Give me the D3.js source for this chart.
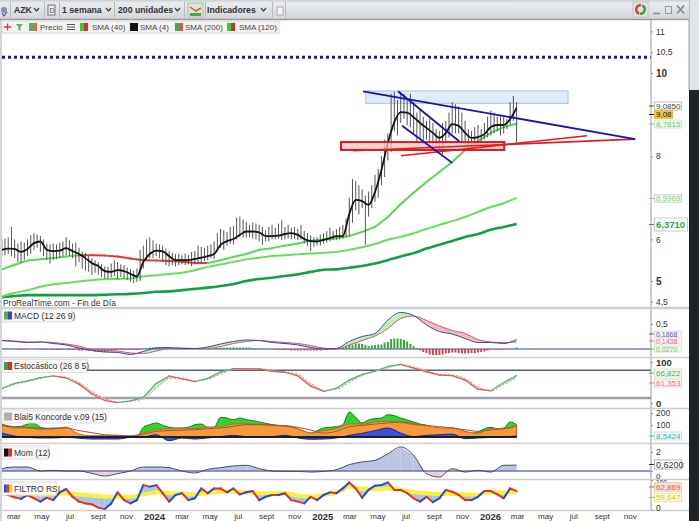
<!DOCTYPE html>
<html>
<head>
<meta charset="utf-8">
<title>AZK</title>
<script src="https://cdn.jsdelivr.net/npm/d3@7/dist/d3.min.js"></script>
<style>
  html, body { margin: 0; padding: 0; background: #fff; overflow: hidden; }
  svg { display: block; font-family: "Liberation Sans", Arial, sans-serif; }
</style>
</head>
<body>
<div id="chart"></div>
<script>
// x axis tick dates and their labels
const monthTicks = ["2023-03-01","2023-05-01","2023-07-01","2023-09-01","2023-11-01","2024-01-01","2024-03-01","2024-05-01","2024-07-01","2024-09-01","2024-11-01","2025-01-01","2025-03-01","2025-05-01","2025-07-01","2025-09-01","2025-11-01","2026-01-01","2026-03-01","2026-05-01","2026-07-01","2026-09-01","2026-11-01"];
const monthLabels = ["mar","may","jul","sept","nov","2024","mar","may","jul","sept","nov","2025","mar","may","jul","sept","nov","2026","mar","may","jul","sept","nov"];

// price panel, weekly bars
const barHigh = [6.00,6.02,6.05,6.30,6.00,5.90,5.95,5.92,6.00,6.10,6.15,6.12,6.08,6.00,5.90,5.88,5.90,5.88,5.92,5.95,
  6.05,5.98,5.90,5.92,5.80,5.70,5.68,5.60,5.55,5.50,5.45,5.40,5.35,5.35,5.42,5.50,5.45,5.40,5.38,5.32,
  5.28,5.25,5.30,5.75,5.85,6.00,6.05,5.98,5.90,5.88,5.85,5.78,5.72,5.68,5.65,5.65,5.62,5.66,5.62,5.70,
  5.72,5.85,5.82,5.80,5.85,5.88,5.95,6.15,6.25,6.22,6.18,6.30,6.32,6.52,6.55,6.48,6.42,6.35,6.40,6.38,
  6.35,6.30,6.22,6.30,6.35,6.28,6.38,6.47,6.30,6.35,6.28,6.30,6.25,6.35,6.20,6.15,6.10,6.05,6.05,6.12,
  6.15,6.20,6.28,6.20,6.25,6.30,6.35,6.50,7.00,7.45,7.40,7.30,7.20,7.05,7.15,7.30,7.55,7.70,8.00,8.40,
  8.55,9.50,9.55,9.35,9.55,9.50,9.40,9.50,9.30,9.05,9.15,8.95,8.85,8.90,8.80,8.65,8.60,8.80,8.85,9.05,
  9.30,9.25,9.20,9.05,8.85,8.65,8.60,8.70,8.75,8.65,8.80,8.95,9.10,9.05,8.95,9.00,8.95,8.90,9.30,9.45,9.30];
const barLow = [5.60,5.62,5.65,5.60,5.55,5.45,5.43,5.50,5.60,5.65,5.75,5.80,5.70,5.60,5.50,5.42,5.50,5.52,5.55,5.60,
  5.62,5.60,5.55,5.35,5.45,5.30,5.25,5.22,5.15,5.20,5.15,5.10,5.05,5.05,5.08,5.12,5.05,5.10,5.05,5.02,
  4.98,4.95,4.98,5.00,5.30,5.50,5.55,5.55,5.60,5.55,5.45,5.38,5.35,5.38,5.35,5.38,5.40,5.38,5.40,5.35,
  5.40,5.45,5.42,5.48,5.50,5.55,5.52,5.72,5.80,5.75,5.85,5.90,5.88,6.00,6.05,6.05,6.05,6.05,6.02,6.00,
  5.95,5.87,5.95,5.95,6.00,6.00,6.02,5.98,6.00,6.02,6.00,6.02,5.98,6.00,5.90,5.85,5.72,5.82,5.85,5.85,
  5.90,5.92,5.95,5.98,5.98,6.00,6.02,6.05,6.10,6.40,6.70,6.60,6.75,5.87,6.55,6.75,6.90,7.00,7.30,7.50,
  7.90,8.10,8.60,8.50,8.80,8.90,8.75,8.70,8.55,8.35,8.40,8.30,8.40,8.35,8.25,8.15,8.10,8.05,8.30,8.45,
  8.55,8.55,8.55,8.35,8.30,8.25,8.20,8.25,8.25,8.30,8.40,8.45,8.50,8.55,8.60,8.50,8.55,8.65,8.75,8.85,8.32];

// moving averages (sma4 every 2 weeks, the slow ones every 4 weeks)
const sma4 = [5.75,5.78,5.77,5.70,5.77,5.91,5.95,5.75,5.72,5.73,5.79,5.72,5.65,5.55,5.43,5.36,5.24,5.22,5.26,5.24,5.17,5.11,5.46,5.65,5.73,5.71,5.60,5.50,5.50,5.50,5.53,5.56,5.60,5.65,5.87,5.96,6.01,6.11,6.19,6.19,6.17,6.08,6.08,6.09,6.13,6.15,6.11,6.01,5.96,5.95,5.99,6.03,6.08,6.08,6.61,6.95,6.92,6.83,7.14,7.67,8.32,8.82,9.06,9.05,8.94,8.80,8.68,8.56,8.44,8.56,8.77,8.73,8.56,8.44,8.46,8.53,8.70,8.75,8.75,8.89,9.16];
const sma40 = [5.28,5.39,5.49,5.52,5.55,5.59,5.62,5.62,5.61,5.59,5.54,5.50,5.49,5.48,5.46,5.43,5.43,5.50,5.58,5.65,5.75,5.79,5.85,5.90,5.97,6.00,6.03,6.08,6.18,6.30,6.54,6.85,7.12,7.38,7.62,7.86,8.15,8.36,8.56,8.70,8.78];
const sma120 = [4.63,4.71,4.78,4.86,4.92,4.95,4.99,5.02,5.04,5.05,5.06,5.11,5.14,5.17,5.20,5.26,5.34,5.40,5.46,5.52,5.56,5.60,5.62,5.64,5.66,5.68,5.70,5.75,5.81,5.89,5.99,6.06,6.15,6.25,6.35,6.44,6.54,6.66,6.78,6.87,7.00];
const sma200 = [4.61,4.64,4.66,4.66,4.66,4.66,4.66,4.66,4.67,4.68,4.69,4.71,4.74,4.75,4.78,4.81,4.84,4.88,4.93,5.00,5.05,5.08,5.12,5.16,5.22,5.27,5.28,5.32,5.36,5.42,5.50,5.59,5.67,5.78,5.87,5.96,6.06,6.13,6.23,6.30,6.37];

// drawn objects on the price panel: [start date, start price, end date, end price]
const dottedLevel = 10.38;
const blueLines = [["2025-04-02",9.56,"2026-11-15",8.41],["2025-06-17",9.56,"2025-10-28",8.36],["2025-06-26",8.73,"2025-10-13",7.84]];
const redLines = [["2025-03-11",8.13,"2026-11-15",8.41],["2025-06-24",8.01,"2026-08-02",8.49]];
const blueBox = ["2025-04-08",9.57,"2026-06-22",9.27];
const redBox = ["2025-02-13",8.34,"2026-02-03",8.15];
const priceTicks = [11,10.5,10,8,6,5,4.5];

// MACD: lines every 4 weeks, histogram weekly
const macdLine = [.17,.15,.13,.14,.11,.08,.02,-.03,-.06,-.07,-.11,-.05,.02,.03,.01,.01,.04,.10,.15,.18,.17,.13,.11,.08,.03,0,.01,.15,.25,.31,.58,.73,.67,.48,.35,.30,.21,.13,.13,.11,.19];
const macdSignal = [.17,.16,.14,.14,.13,.10,.06,-.01,-.03,-.04,-.08,-.09,-.04,.01,.02,.01,.01,.05,.11,.15,.17,.15,.13,.11,.07,.02,0,.08,.17,.26,.41,.61,.66,.57,.46,.37,.31,.19,.14,.13,.14];
const macdHist = [.01,.01,.01,0,-.01,-.01,-.02,-.01,-.01,0,0,-.01,-.01,-.02,-.01,-.01,-.02,-.02,-.02,-.01,
  -.01,-.02,-.02,-.02,-.03,-.03,-.03,-.04,-.04,-.05,-.05,-.06,-.06,-.05,-.04,-.03,-.02,-.02,-.02,-.02,
  -.02,-.02,-.02,-.01,.01,.02,.03,.03,.04,.04,.04,.03,.02,.02,.01,.01,0,0,0,0,
  0,0,.01,.01,.01,.01,.02,.02,.03,.03,.03,.03,.03,.03,.03,.03,.03,.03,.02,.02,
  .01,.01,0,0,-.01,-.01,-.02,-.02,-.02,-.02,-.03,-.03,-.03,-.03,-.03,-.03,-.03,-.03,-.03,-.03,
  -.02,-.02,-.01,-.01,0,.01,.03,.06,.08,.09,.11,.11,.10,.08,.06,.07,.08,.09,.09,.13,
  .14,.20,.21,.21,.20,.18,.15,.10,.06,.02,-.03,-.06,-.08,-.11,-.12,-.12,-.12,-.11,-.09,-.08,
  -.07,-.07,-.08,-.09,-.09,-.09,-.08,-.08,-.07,-.06,-.05,-.03,-.01,-.01,-.01,-.01,-.01,0,0,.01,.03];

// Estocastico, every 4 weeks
const stochK = [36,48,54,62,66,61,46,22,6,1,5,14,48,66,59,52,60,76,84,83,83,77,75,66,41,28,36,56,70,78,89,94,85,76,68,67,56,33,30,50,67];
const stochD = [34,45,52,60,65,63,50,28,11,2,4,10,36,60,61,54,57,71,82,84,84,79,76,70,48,31,33,50,67,76,86,93,88,79,70,68,60,39,29,45,61];
const stochLevels = [80,12];

// Koncorde: green every 2 weeks, the others every 4 weeks
const koncGreen = [108,92,86,89,108,114,81,72,75,75,81,33,14,6,6,6,6,8,11,8,6,3,81,103,117,97,81,75,75,81,103,108,81,81,164,158,144,158,144,136,125,114,103,97,94,89,69,47,33,53,75,81,86,103,208,164,117,142,153,158,186,178,158,142,125,108,97,75,75,64,75,61,47,31,42,69,81,69,75,125,103];
const koncOrange = [103,75,75,64,67,81,25,11,11,14,8,33,61,69,69,69,81,86,108,111,103,97,89,69,33,53,69,108,108,125,131,122,103,94,75,75,47,31,69,69,97];
const koncBlue = [33,8,-3,-8,-8,-3,-10,-17,-17,-17,-3,0,19,-31,-8,-17,-8,3,14,3,3,3,14,-8,-19,-17,-8,14,31,53,75,33,3,14,19,25,-14,-8,-3,0,8.5];
const koncMa = [95,85,80,72,70,75,53,36,19,14,8,22,47,53,56,61,69,75,89,103,103,100,92,81,58,33,47,86,97,108,117,125,111,97,86,75,61,47,58,69,89];

// Mom, every 4 weeks
const momValues = [.25,.42,.42,0,.07,0,0,-.25,-.53,-.28,0,.42,.42,.35,0,-.21,.18,.35,.53,.6,.25,0,-.04,-.04,-.11,-.04,.14,.67,.95,1.12,1.82,2.53,1.65,-.28,-.63,.25,-.11,.07,-.11,.6,.62];

// FILTRO RSI: fast line every 2 weeks, yellow every 4 weeks
const rsiFast = [56,50,42,37,50,39,28,41,33,59,70,44,28,22,19,8,3,22,59,33,22,33,83,78,83,56,28,50,56,33,39,72,56,72,72,59,72,52,59,63,33,44,50,50,56,33,28,22,44,33,50,59,56,72,92,72,41,67,81,83,92,67,67,56,39,28,44,26,39,67,61,50,33,33,44,63,63,52,39,72,63];
const rsiSlow = [56,56,52,52,52,56,52,48,44,44,44,52,59,56,56,52,56,61,61,59,56,56,56,48,44,50,59,78,70,70,72,67,59,56,53,53,52,52,59,58,60];

const WIDTH = 699;
const HEIGHT = 521;
const AXIS_X = 651;
const FRAME_X = 689;

const svg = d3.select("#chart").append("svg")
    .attr("width", WIDTH)
    .attr("height", HEIGHT);

const parseDay = d3.timeParse("%Y-%m-%d");

const weeks = d3.timeMonday.range(new Date(2023, 1, 6), new Date(2026, 2, 3));
const weeks2 = weeks.filter((d, i) => i % 2 === 0);
const weeks4 = weeks.filter((d, i) => i % 4 === 0);

const xScale = d3.scaleTime()
    .domain([new Date(2024, 0, 1), new Date(2026, 0, 1)])
    .range([153, 489]);

// One y scale per panel
const priceY = d3.scaleLinear().domain([4.5, 11]).range([301.8, 31.4]);
const macdY = d3.scaleLinear().domain([0, 0.5]).range([349, 324]);
const stochY = d3.scaleLinear().domain([0, 100]).range([403, 362]);
const koncY = d3.scaleLinear().domain([0, 200]).range([437, 413]);
const momY = d3.scaleLinear().domain([0, 2]).range([471, 452]);
const rsiY = d3.scaleLinear().domain([0, 100]).range([510, 480]);

const commaFormat = d => String(d).replace(".", ",");

function smoothLine(dates, y) {
    return d3.line()
        .x((d, i) => xScale(dates[i]))
        .y(d => y(d))
        .curve(d3.curveMonotoneX);
}

function drawLine(values, dates, y, color, width, dash) {
    svg.append("path")
        .attr("d", smoothLine(dates, y)(values))
        .attr("fill", "none")
        .attr("stroke", color)
        .attr("stroke-width", width)
        .attr("stroke-dasharray", dash || null)
        .attr("stroke-linejoin", "round");
}

// Segments coloured by direction of the series
function drawDirectional(values, dates, y, upColor, downColor, width) {
    svg.append("g").selectAll("line")
        .data(values.slice(1))
        .enter()
        .append("line")
        .attr("x1", (d, i) => xScale(dates[i]))
        .attr("x2", (d, i) => xScale(dates[i + 1]))
        .attr("y1", (d, i) => y(values[i]))
        .attr("y2", d => y(d))
        .attr("stroke", (d, i) => d > values[i] ? upColor : downColor)
        .attr("stroke-width", width)
        .attr("stroke-linecap", "round");
}

// Area between two series, colour changes with which one is on top
function fillBetween(a, b, dates, y, upColor, downColor) {
    const area = d3.area()
        .x(d => xScale(d.date))
        .y0(d => y(d.b))
        .y1(d => y(d.a));
    svg.append("g").selectAll("path")
        .data(a.slice(1))
        .enter()
        .append("path")
        .attr("d", (d, i) => area([
            { date: dates[i], a: a[i], b: b[i] },
            { date: dates[i + 1], a: a[i + 1], b: b[i + 1] }
        ]))
        .attr("fill", (d, i) => a[i] + a[i + 1] >= b[i] + b[i + 1] ? upColor : downColor);
}

function fillToZero(values, dates, y, color, outline) {
    const area = d3.area()
        .x((d, i) => xScale(dates[i]))
        .y0(y(0))
        .y1(d => y(d))
        .curve(d3.curveMonotoneX);
    svg.append("path")
        .attr("d", area(values))
        .attr("fill", color)
        .attr("stroke", outline || "none")
        .attr("stroke-width", 1);
}

function hLine(value, y, color, width, x2) {
    svg.append("line")
        .attr("x1", 2)
        .attr("x2", x2 || AXIS_X)
        .attr("y1", y(value))
        .attr("y2", y(value))
        .attr("stroke", color)
        .attr("stroke-width", width);
}

// ---- price panel ----
drawLine(sma200, weeks4, priceY, "#12a045", 2.6);
drawLine(sma120, weeks4, priceY, "#62e05a", 2);
drawDirectional(sma40, weeks4, priceY, "#52dc4e", "#dd3a3a", 2);

svg.append("rect")
    .attr("x", xScale(parseDay(blueBox[0])))
    .attr("y", priceY(blueBox[1]))
    .attr("width", xScale(parseDay(blueBox[2])) - xScale(parseDay(blueBox[0])))
    .attr("height", priceY(blueBox[3]) - priceY(blueBox[1]))
    .attr("fill", "#e0ebf8")
    .attr("stroke", "#a9c4e6")
    .attr("stroke-width", 1);

svg.append("g").selectAll("line")
    .data(barHigh)
    .enter()
    .append("line")
    .attr("x1", (d, i) => xScale(weeks[i]))
    .attr("x2", (d, i) => xScale(weeks[i]))
    .attr("y1", d => priceY(d))
    .attr("y2", (d, i) => priceY(barLow[i]))
    .attr("stroke", "#555")
    .attr("stroke-width", 1);

drawLine(sma4, weeks2, priceY, "#141414", 1.8);

svg.append("rect")
    .attr("x", xScale(parseDay(redBox[0])))
    .attr("y", priceY(redBox[1]))
    .attr("width", xScale(parseDay(redBox[2])) - xScale(parseDay(redBox[0])))
    .attr("height", priceY(redBox[3]) - priceY(redBox[1]))
    .attr("fill", "#f8c4c4")
    .attr("fill-opacity", 0.75)
    .attr("stroke", "#e0181c")
    .attr("stroke-width", 2);

function drawTrendLines(lines, color, width) {
    svg.append("g").selectAll("line")
        .data(lines)
        .enter()
        .append("line")
        .attr("x1", d => xScale(parseDay(d[0])))
        .attr("y1", d => priceY(d[1]))
        .attr("x2", d => xScale(parseDay(d[2])))
        .attr("y2", d => priceY(d[3]))
        .attr("stroke", color)
        .attr("stroke-width", width);
}
drawTrendLines(redLines, "#e01c20", 1.6);
drawTrendLines(blueLines, "#1414b4", 1.8);

svg.append("line")
    .attr("x1", 2)
    .attr("x2", AXIS_X)
    .attr("y1", priceY(dottedLevel))
    .attr("y2", priceY(dottedLevel))
    .attr("stroke", "#1a1aa8")
    .attr("stroke-width", 3)
    .attr("stroke-dasharray", "3 3");

// ---- MACD ----
fillBetween(macdLine, macdSignal, weeks4, macdY, "#bdf0bd", "#f8b8bc");
hLine(0, macdY, "#9aa0cc", 2);
svg.append("g").selectAll("rect")
    .data(macdHist)
    .enter()
    .append("rect")
    .attr("x", (d, i) => xScale(weeks[i]) - 1)
    .attr("y", d => macdY(Math.max(d, 0)))
    .attr("width", 2)
    .attr("height", d => Math.abs(macdY(d) - macdY(0)))
    .attr("fill", d => d >= 0 ? "#3aa83a" : "#d2474d");
drawLine(macdSignal, weeks4, macdY, "#c7626a", 1);
drawLine(macdLine, weeks4, macdY, "#3b48a8", 1);

// ---- Estocastico ----
hLine(stochLevels[0], stochY, "#5c6274", 1.5);
hLine(stochLevels[1], stochY, "#a0a0a6", 2.5);
fillBetween(stochK, stochD, weeks4, stochY, "#c6ecc6", "#f7c4c6");
drawLine(stochD, weeks4, stochY, "#d68a8a", 1, "2 2");
drawDirectional(stochK, weeks4, stochY, "#5fae7a", "#dc5c5c", 1.3);

// ---- Koncorde ----
fillToZero(koncGreen, weeks2, koncY, "#2dd62d", "#1c7a1c");
fillToZero(koncOrange, weeks4, koncY, "#f49a3c", "#c46a16");
drawLine(koncMa, weeks4, koncY, "#a8504a", 1);
fillToZero(koncBlue, weeks4, koncY, "#3a52d8", "#1a2a88");
svg.append("line")
    .attr("x1", 2)
    .attr("x2", xScale(weeks[weeks.length - 1]))
    .attr("y1", koncY(0))
    .attr("y2", koncY(0))
    .attr("stroke", "#111")
    .attr("stroke-width", 1.5);

// ---- Mom ----
fillBetween(momValues, momValues.map(() => 0), weeks4, momY, "#bcc5df", "#ecd0d4");
hLine(0, momY, "#6d76a8", 1.5);
drawLine(momValues, weeks4, momY, "#4a4a5a", 1);

// ---- FILTRO RSI ----
const rsiSlowOnFast = rsiFast.map((d, i) => rsiSlow[Math.floor(i / 2)]);
fillBetween(rsiFast, rsiSlowOnFast, weeks2, rsiY, "#a5c4ec", "#a5c4ec");
drawLine(rsiSlow, weeks4, rsiY, "#f9f13a", 4);
drawDirectional(rsiFast, weeks2, rsiY, "#2a44d8", "#e2331f", 2);

// ---- frame, panel separators ----
[308, 357.5, 408.5, 443.5, 479.5, 510.5].forEach(sep => {
    svg.append("line")
        .attr("x1", 0).attr("x2", FRAME_X)
        .attr("y1", sep).attr("y2", sep)
        .attr("stroke", "#cdcdd0")
        .attr("stroke-width", sep === 308 ? 2.5 : 1.5);
});

svg.append("rect").attr("x", 0).attr("y", 19).attr("width", 2).attr("height", HEIGHT - 19).attr("fill", "#d4d4d6");
svg.append("rect").attr("x", FRAME_X).attr("y", 0).attr("width", WIDTH - FRAME_X).attr("height", 90).attr("fill", "#dfe4ea");
svg.append("rect").attr("x", FRAME_X).attr("y", 90).attr("width", WIDTH - FRAME_X).attr("height", HEIGHT - 90).attr("fill", "#1f2326");
svg.append("line").attr("x1", FRAME_X).attr("x2", FRAME_X).attr("y1", 0).attr("y2", 90).attr("stroke", "#9a9ea4");

// ---- axes ----
function styleAxis(g) {
    g.select(".domain").attr("stroke", "#9a9a9a");
    g.selectAll(".tick line").attr("stroke", "#9a9a9a");
    g.selectAll("text")
        .attr("font-size", 8.5)
        .attr("font-family", "Liberation Sans")
        .attr("fill", "#333");
}

const xAxis = svg.append("g")
    .attr("transform", "translate(0,510)")
    .call(d3.axisBottom(xScale)
        .tickValues(monthTicks.map(parseDay))
        .tickSize(0)
        .tickPadding(3)
        .tickFormat((d, i) => monthLabels[i]));
xAxis.select(".domain").remove();
xAxis.selectAll("text")
    .attr("font-size", d => d.getMonth() === 0 ? 9.5 : 8)
    .attr("font-weight", d => d.getMonth() === 0 ? "bold" : "normal")
    .attr("font-family", "Liberation Sans")
    .attr("dx", 1)
    .attr("fill", "#333");

function priceAxis(y, ticks, y0, y1) {
    const g = svg.append("g")
        .attr("transform", `translate(${AXIS_X},0)`)
        .call(d3.axisRight(y).tickValues(ticks).tickSize(2).tickPadding(3).tickFormat(commaFormat));
    styleAxis(g);
    g.select(".domain").attr("d", `M0,${y0}V${y1}`);
    return g;
}

const mainAxis = priceAxis(priceY, priceTicks, 19, 307);
mainAxis.selectAll("text")
    .attr("font-weight", d => d === 10 || d === 5 ? "bold" : "normal")
    .attr("font-size", d => d === 10 || d === 5 ? 10 : 8.5);
priceAxis(macdY, [0.5], 309, 357);
priceAxis(stochY, [100, 0], 358, 408).selectAll("text").attr("font-size", 9.5).attr("font-weight", "bold");
priceAxis(koncY, [200, 100], 409, 443);
// the zero and hundred labels sit just clear of the value tags, as in the source
priceAxis(momY, [2, 0], 444, 479).selectAll("text")
    .attr("dy", d => d === 0 ? "7px" : "0.32em")
    .attr("font-size", d => d === 0 ? 8 : 8.5);
priceAxis(rsiY, [100, 0], 480, 510).selectAll("text")
    .attr("dy", d => d === 0 ? "0px" : "4px")
    .attr("font-size", d => d === 0 ? 8.5 : 6.5);

// ---- value tags on the right axis ----
function valueTag(label, cy, h, textColor, border, bg, bold, size, w) {
    const fontSize = size || 8;
    svg.append("rect")
        .attr("x", 654.5).attr("y", cy - h / 2)
        .attr("width", w || Math.max(label.length * 4.5, 17)).attr("height", h)
        .attr("fill", bg)
        .attr("stroke", border);
    svg.append("text")
        .attr("x", 656).attr("y", cy + fontSize * 0.36)
        .attr("font-size", fontSize)
        .attr("font-weight", bold ? "bold" : "normal")
        .attr("fill", textColor)
        .text(label);
    svg.append("line")
        .attr("x1", AXIS_X - 2).attr("x2", 654)
        .attr("y1", cy).attr("y2", cy)
        .attr("stroke", textColor);
}
valueTag("9,0850", 106, 8, "#444", "#bbb", "#fff");
valueTag("9,08", 114.5, 7.5, "#222", "#e8b832", "#f3c640");
valueTag("8,7815", 124, 8, "#72c272", "#cfe8cf", "#eef9ee");
valueTag("6,9969", 198.5, 7.5, "#86cf80", "#cfcfcf", "#f2faf0");
valueTag("6,3710", 224.5, 13, "#22a84c", "#c8c8c8", "#fff", true, 9.5, 33);
valueTag("0,1868", 334, 6, "#5860b8", "#dcdcec", "#f4f4fb", false, 7);
valueTag("0,1438", 341, 6, "#d87878", "#f0d8d8", "#fdf2f2", false, 7);
valueTag("0,0270", 349, 6, "#72c272", "#cfe8cf", "#eef9ee", false, 7);
valueTag("66,822", 373, 8, "#52b152", "#cfe8cf", "#eef9ee");
valueTag("61,353", 383, 8, "#d87878", "#e8cccc", "#fdf4f4");
valueTag("8,5424", 436, 8, "#38b4b0", "#c8e6e6", "#ecf8f8");
valueTag("0,6200", 464.5, 9, "#333", "#b8b8b8", "#fff", false, 9);
valueTag("62,869", 487, 8.5, "#e0603a", "#e8c8b8", "#fbe3da");
valueTag("59,647", 497.5, 8.5, "#cfc23a", "#e8e2a0", "#fdfbd8");

// ---- panel titles ----
function panelTitle(label, x2, y0, colors) {
    svg.append("rect")
        .attr("x", 2).attr("y", y0)
        .attr("width", x2 - 2).attr("height", 13)
        .attr("fill", "#f7f7f7")
        .attr("stroke", "#dedede");
    colors.forEach((c, i) => {
        svg.append("rect")
            .attr("x", 4 + i * 8 / colors.length).attr("y", y0 + 2.5)
            .attr("width", 8 / colors.length).attr("height", 8)
            .attr("fill", c);
    });
    svg.append("text")
        .attr("x", 14).attr("y", y0 + 9.5)
        .attr("font-size", 8.5)
        .attr("fill", "#333")
        .text(label);
}
panelTitle("MACD (12 26 9)", 72, 309, ["#5aa85a", "#3a48c0"]);
panelTitle("Estocástico (26 8 5)", 87, 359.5, ["#2aa84a", "#e0282c"]);
panelTitle("Blai5 Koncorde v.09 (15)", 103, 410, ["#b0b0b0"]);
panelTitle("Mom (12)", 49, 446, ["#111", "#c83a3a"]);
panelTitle("FILTRO RSI", 56, 482, ["#2a44d8", "#e2331f", "#f0d020"]);

svg.append("text")
    .attr("x", 3).attr("y", 306)
    .attr("font-size", 8.4)
    .attr("fill", "#333")
    .text("ProRealTime.com - Fin de Día");

// ---- toolbar ----
const defs = svg.append("defs");
const toolbarGrad = defs.append("linearGradient")
    .attr("id", "toolbarGrad")
    .attr("x1", 0).attr("x2", 0).attr("y1", 0).attr("y2", 1);
toolbarGrad.append("stop").attr("offset", "0%").attr("stop-color", "#c9ced4");
toolbarGrad.append("stop").attr("offset", "15%").attr("stop-color", "#e9ebee");
toolbarGrad.append("stop").attr("offset", "100%").attr("stop-color", "#d3d6da");

svg.append("rect")
    .attr("x", 0).attr("y", 0)
    .attr("width", FRAME_X).attr("height", 19)
    .attr("fill", "url(#toolbarGrad)");
svg.append("line")
    .attr("x1", 0).attr("x2", FRAME_X).attr("y1", 19.5).attr("y2", 19.5)
    .attr("stroke", "#9a9a9a")
    .attr("stroke-width", 1.5);

[10, 44, 59, 114, 184, 205, 272, 285].forEach(x => {
    svg.append("line")
        .attr("x1", x + 0.5).attr("x2", x + 0.5).attr("y1", 2).attr("y2", 18)
        .attr("stroke", "#b8bbc0");
});

function toolbarText(label, x, bold) {
    svg.append("text")
        .attr("x", x).attr("y", 13)
        .attr("font-size", 8.7)
        .attr("font-weight", bold ? "bold" : "normal")
        .attr("fill", "#333")
        .text(label);
}
function chevron(x) {
    svg.append("path")
        .attr("d", `M${x},8l2.5,3l2.5,-3`)
        .attr("fill", "none")
        .attr("stroke", "#444")
        .attr("stroke-width", 1.3);
}
toolbarText("AZK", 14, true);
chevron(34);
svg.append("rect").attr("x", 48).attr("y", 5).attr("width", 7).attr("height", 10).attr("fill", "#eee").attr("stroke", "#777");
svg.append("text").attr("x", 49.5).attr("y", 12.5).attr("font-size", 7).attr("fill", "#444").text("D");
toolbarText("1 semana", 62, true);
chevron(106);
toolbarText("200 unidades", 118, true);
chevron(175);
toolbarText("Indicadores", 207, true);
chevron(261);
// indicators icon
svg.append("rect").attr("x", 188).attr("y", 3).attr("width", 15).attr("height", 14).attr("fill", "#dfe3d8").attr("stroke", "#b8bcae");
svg.append("path").attr("d", "M190,7L196,11L201,8").attr("fill", "none").attr("stroke", "#c86a3a").attr("stroke-width", 1.5);
svg.append("rect").attr("x", 190).attr("y", 13).attr("width", 11).attr("height", 3).attr("fill", "#4aa84a");
svg.append("rect").attr("x", 277).attr("y", 7).attr("width", 6).attr("height", 8).attr("fill", "#f4f4f4").attr("stroke", "#aaa");
// left status icon
svg.append("circle").attr("cx", 4).attr("cy", 10).attr("r", 3).attr("fill", "#8c9098");
svg.append("path").attr("d", "M2,13l2,3l3,-4").attr("fill", "none").attr("stroke", "#3a5ac0").attr("stroke-width", 1.2);

// refresh icon and window buttons
const refreshArc = d3.arc().innerRadius(3).outerRadius(5.5);
svg.append("rect").attr("x", 633).attr("y", 2).attr("width", 15).attr("height", 15).attr("fill", "#e2e2e2").attr("stroke", "#c4c4c4");
svg.append("path")
    .attr("transform", "translate(640.5,9.5)")
    .attr("d", refreshArc({ startAngle: -2.8, endAngle: 0.1 }))
    .attr("fill", "#d8403c");
svg.append("path")
    .attr("transform", "translate(640.5,9.5)")
    .attr("d", refreshArc({ startAngle: 0.4, endAngle: 3.3 }))
    .attr("fill", "#2eaa3c");
svg.append("line").attr("x1", 653).attr("x2", 660).attr("y1", 13.5).attr("y2", 13.5).attr("stroke", "#8a8e94").attr("stroke-width", 1.5);
svg.append("rect").attr("x", 665.5).attr("y", 6.5).attr("width", 6).attr("height", 7).attr("fill", "none").attr("stroke", "#9a9ea4");
svg.append("path").attr("d", "M677,5.5L684,13.5M684,5.5L677,13.5").attr("stroke", "#8a8e94").attr("stroke-width", 1.8);

// ---- legend row ----
svg.append("rect")
    .attr("x", 2).attr("y", 21)
    .attr("width", 277).attr("height", 12)
    .attr("fill", "#f3f3f3")
    .attr("stroke", "#dcdcdc");

function legendItem(label, x, textX, colors) {
    colors.forEach((c, i) => {
        svg.append("rect")
            .attr("x", x + i * 8 / colors.length).attr("y", 23)
            .attr("width", 8 / colors.length).attr("height", 8)
            .attr("fill", c);
    });
    svg.append("text")
        .attr("x", textX).attr("y", 30)
        .attr("font-size", 8)
        .attr("fill", "#444")
        .text(label);
}
svg.append("path").attr("d", "M4,27H11M7.5,23.5V30.5").attr("stroke", "#d83a3a").attr("stroke-width", 1.3);
svg.append("path").attr("d", "M16,24H23L20.5,27V30.5H18.5V27Z").attr("fill", "#58b058");
legendItem("Precio", 29, 40, ["#5aae5a", "#dd6a5a"]);
svg.append("path").attr("d", "M67,24.5H75M67,27H75M67,29.5H75").attr("stroke", "#555").attr("stroke-width", 1);
legendItem("SMA (40)", 80, 92, ["#2ed02e", "#e0282c"]);
legendItem("SMA (4)", 130, 140, ["#111"]);
legendItem("SMA (200)", 175, 185, ["#3aae5a", "#d85a4a"]);
legendItem("SMA (120)", 227, 239, ["#2ed02e", "#e0282c"]);
</script>
</body>
</html>
